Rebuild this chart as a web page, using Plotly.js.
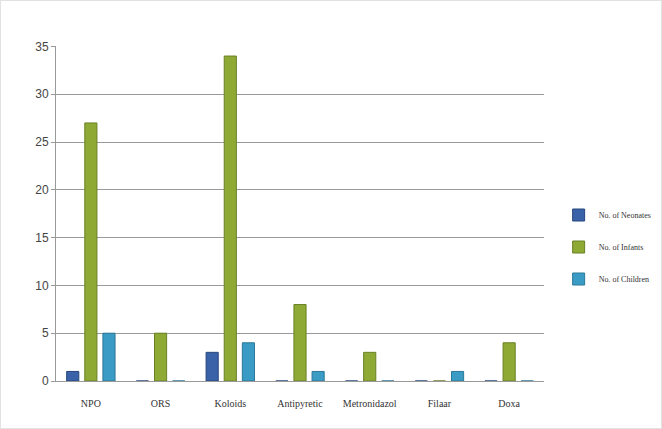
<!DOCTYPE html>
<html><head><meta charset="utf-8">
<script src="https://cdn.plot.ly/plotly-3.0.1.min.js"></script>
<style>body{margin:0;background:#fff}#c{width:660px;height:427px;border:1px solid #e2e2e2}</style>
</head><body><div id="c"></div>
<script>
const categories = ["NPO","ORS","Koloids","Antipyretic","Metronidazol","Filaar","Doxa"];
const neonates = [1,0,3,0,0,0,0];
const infants = [27,5,34,8,3,0,4];
const children = [5,0,4,1,0,1,0];
const seriesNames = ["No. of Neonates","No. of Infants","No. of Children"];
const colors = ["#3a62a8","#8eaa34","#3a9cc4"];
const lines = ["#27467e","#6a8024","#2a7898"];
const vals = [neonates, infants, children];
const traces = vals.map((v,i)=>({
  type:"bar", x:categories, y:v, name:seriesNames[i], legendgroup:"g"+i,
  marker:{color:colors[i], line:{color:lines[i], width:1}}
}));
Plotly.newPlot("c", traces, {
  width:660, height:427,
  margin:{l:55, r:117, t:45, b:47, autoexpand:false},
  paper_bgcolor:"#fff", plot_bgcolor:"#fff",
  barmode:"group", bargap:0.22, bargroupgap:0.33,
  font:{family:"Liberation Serif", color:"#333"},
  xaxis:{showgrid:false, showline:true, linecolor:"#999", ticks:"", tickfont:{size:10, family:"Liberation Serif"}, ticklabelstandoff:13},
  yaxis:{range:[0,35.05], dtick:5, showgrid:true, gridcolor:"#999", gridwidth:1, showline:true, linecolor:"#999",
    ticks:"outside", ticklen:4, tickcolor:"#999", tickfont:{size:12, family:"Liberation Sans", color:"#444"}, zeroline:false},
  legend:{x:1.03, y:0.40, yanchor:"middle", font:{size:8, family:"Liberation Serif"}, tracegroupgap:13, itemwidth:30},
  showlegend:true
}, {displayModeBar:false});
</script></body></html>
